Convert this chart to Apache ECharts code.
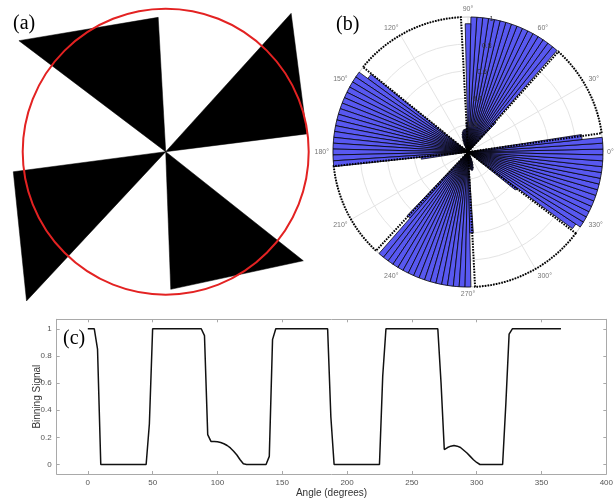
<!DOCTYPE html>
<html><head><meta charset="utf-8">
<script src="https://cdn.jsdelivr.net/npm/echarts@6/dist/echarts.min.js"></script>
<style>html,body{margin:0;padding:0;background:#fff}#c{width:616px;height:499px}</style>
</head><body><div id="c"></div>
<script>
// Sampling step of the binning signal (degrees)
const STEP = 2.5;
// Binning signal, one value every 2.5 degrees from 0 to 365
const signal = [
  1,1,1,0.85,0,0,0,0,0,0,
  0,0,0,0,0,0,0,0,0,0.3,
  1,1,1,1,1,1,1,1,1,1,
  1,1,1,1,1,1,0.95,0.22,0.17,0.17,
  0.168,0.162,0.153,0.14,0.122,0.098,0.07,0.035,0.005,0,
  0,0,0,0,0,0,0.06,0.92,1,1,
  1,1,1,1,1,1,1,1,1,1,
  1,1,1,1,1,0.35,0,0,0,0,
  0,0,0,0,0,0,0,0,0,0,
  0,0.65,1,1,1,1,1,1,1,1,
  1,1,1,1,1,1,1,1,1,0.6,
  0.11,0.125,0.135,0.14,0.135,0.125,0.105,0.085,0.06,0.035,
  0.015,0,0,0,0,0,0,0,0,0.45,
  0.96,1,1,1,1,1,1,1,1,1,
  1,1,1,1,1,1,1
];
const angles = signal.map((_, i) => i * STEP);
const BIN_COUNT = 144;
const binLabels = angles.slice(0, BIN_COUNT).map(String);
const binValues = signal.slice(0, BIN_COUNT);

// Pinwheel blades of panel (a): [radius1, angle1, radius2, angle2] (radius in units of the red circle)
const pinwheelBlades = [
  [0.941, 93.2, 1.287, 142.9],
  [0.994, 7.2, 1.306, 47.8],
  [1.075, 187.5, 1.427, 227.0],
  [0.963, 272.1, 1.228, 321.6]
];
const circleRadius = [[1, 0]];

// Reference (black) sectors outlined dotted in panel (b): [startAngle, endAngle]
const referenceWedges = [[8, 48], [93, 141], [186, 227], [273, 323]];

const xTicks = [0, 50, 100, 150, 200, 250, 300, 350, 400];
const yTicks = [0, 0.2, 0.4, 0.6, 0.8, 1];
const panelLabels = ['(a)', '(b)', '(c)'];

const chart = echarts.init(document.getElementById('c'), null, {renderer: 'canvas'});
const SANS = '"Liberation Sans", Arial, sans-serif';
const SERIF = '"Liberation Serif", "Times New Roman", serif';
const axisGray = '#a9a9a9';
const tickLabel = {fontSize: 8, color: '#555', fontFamily: SANS};

const option = {
  animation: false,
  backgroundColor: '#fff',
  textStyle: {fontFamily: SANS},
  polar: [
    {center: [165.7, 151.7], radius: 214.5},
    {center: [468, 152], radius: 135},
    {center: [468, 152], radius: 135},
    {center: [468, 152], radius: 135}
  ],
  angleAxis: [
    {polarIndex: 0, type: 'value', min: 0, max: 360, startAngle: 0, clockwise: false, show: false},
    {polarIndex: 1, type: 'category', data: binLabels, boundaryGap: false, startAngle: 0, clockwise: false,
      axisLine: {show: true, lineStyle: {color: '#d4d4d4', width: 1}},
      axisTick: {show: false},
      axisLabel: {interval: 11, formatter: v => v + '°', color: '#777', fontSize: 7, margin: 4, fontFamily: SANS},
      splitLine: {show: true, interval: 11, lineStyle: {color: '#e4e4e4', width: 1}}
    },
    {polarIndex: 2, type: 'value', min: 0, max: 360, startAngle: 0, clockwise: false, show: false},
    {polarIndex: 3, type: 'value', min: 0, max: 360, startAngle: 80, clockwise: false, show: false}
  ],
  radiusAxis: [
    {polarIndex: 0, type: 'value', min: 0, max: 1.5, show: false},
    {polarIndex: 1, type: 'value', min: 0, max: 1, interval: 0.2,
      axisLine: {show: false}, axisTick: {show: false}, axisLabel: {show: false},
      splitLine: {show: true, lineStyle: {color: '#e4e4e4', width: 1}}
    },
    {polarIndex: 2, type: 'value', min: 0, max: 1, show: false},
    {polarIndex: 3, type: 'value', min: 0, max: 1, interval: 0.2, z: 10,
      axisLine: {show: false}, axisTick: {show: false}, splitLine: {show: false},
      axisLabel: {margin: 0, align: 'center', verticalAlign: 'middle', color: '#333', fontSize: 7, fontFamily: SANS,
        formatter: v => (v === 0 ? '' : String(+v.toFixed(1)))}
    }
  ],
  grid: [{left: 56.7, top: 319.3, width: 552.3, height: 155.7, containLabel: false}],
  xAxis: [
    {gridIndex: 0, type: 'value', min: -24, max: 400, position: 'bottom',
      axisLine: {show: true, onZero: false, lineStyle: {color: axisGray, width: 1}},
      axisTick: {show: true, inside: true, length: 3, customValues: xTicks, lineStyle: {color: axisGray}},
      axisLabel: Object.assign({customValues: xTicks, margin: 5}, tickLabel),
      splitLine: {show: false},
      name: 'Angle (degrees)', nameLocation: 'middle', nameGap: 14, nameMoveOverlap: false,
      nameTextStyle: {fontSize: 10, color: '#333', fontFamily: SANS}
    },
    {gridIndex: 0, type: 'value', min: -24, max: 400, position: 'top',
      axisLine: {show: true, onZero: false, lineStyle: {color: axisGray, width: 1}},
      axisTick: {show: true, inside: true, length: 3, customValues: xTicks, lineStyle: {color: axisGray}},
      axisLabel: {show: false}, splitLine: {show: false}
    }
  ],
  yAxis: [
    {gridIndex: 0, type: 'value', min: -0.07, max: 1.07, position: 'left',
      axisLine: {show: true, onZero: false, lineStyle: {color: axisGray, width: 1}},
      axisTick: {show: true, inside: true, length: 3, customValues: yTicks, lineStyle: {color: axisGray}},
      axisLabel: Object.assign({customValues: yTicks, margin: 5}, tickLabel),
      splitLine: {show: false},
      name: 'Binning Signal', nameLocation: 'middle', nameGap: 14, nameMoveOverlap: false,
      nameTextStyle: {fontSize: 10, color: '#333', fontFamily: SANS}
    },
    {gridIndex: 0, type: 'value', min: -0.07, max: 1.07, position: 'right',
      axisLine: {show: true, onZero: false, lineStyle: {color: axisGray, width: 1}},
      axisTick: {show: true, inside: true, length: 3, customValues: yTicks, lineStyle: {color: axisGray}},
      axisLabel: {show: false}, splitLine: {show: false}
    }
  ],
  series: [
    {
      type: 'custom', coordinateSystem: 'polar', polarIndex: 0, silent: true,
      data: pinwheelBlades,
      renderItem: function (params, api) {
        const c = api.coord([0, 0]);
        const p1 = api.coord([api.value(0), api.value(1)]);
        const p2 = api.coord([api.value(2), api.value(3)]);
        return {type: 'polygon', shape: {points: [c, p1, p2]}, style: {fill: '#000', stroke: '#000', lineWidth: 0.5}};
      }
    },
    {
      type: 'custom', coordinateSystem: 'polar', polarIndex: 0, silent: true, z: 3,
      data: circleRadius,
      renderItem: function (params, api) {
        const c = api.coord([0, 0]);
        const p = api.coord([api.value(0), api.value(1)]);
        const r = Math.hypot(p[0] - c[0], p[1] - c[1]);
        return {type: 'circle', shape: {cx: c[0], cy: c[1], r: r}, style: {fill: null, stroke: '#e32222', lineWidth: 2}};
      }
    },
    {
      type: 'bar', coordinateSystem: 'polar', polarIndex: 1, silent: true,
      data: binValues,
      barCategoryGap: '0%',
      itemStyle: {color: '#5858f0', borderColor: '#000', borderWidth: 0.75}
    },
    {
      type: 'custom', coordinateSystem: 'polar', polarIndex: 2, silent: true, z: 4,
      data: referenceWedges,
      renderItem: function (params, api) {
        const c = api.coord([0, 0]);
        const p0 = api.coord([1, api.value(0)]);
        const p1 = api.coord([1, api.value(1)]);
        const r = Math.hypot(p0[0] - c[0], p0[1] - c[1]);
        const s0 = Math.atan2(p0[1] - c[1], p0[0] - c[0]);
        const s1 = Math.atan2(p1[1] - c[1], p1[0] - c[0]);
        return {type: 'sector', shape: {cx: c[0], cy: c[1], r0: 0, r: r, startAngle: s1, endAngle: s0, clockwise: true},
          style: {fill: null, stroke: '#000', lineWidth: 2, lineDash: [1.6, 1.2]}};
      }
    },
    {
      type: 'line', xAxisIndex: 0, yAxisIndex: 0, silent: true,
      data: angles.map((a, i) => [a, signal[i]]),
      showSymbol: false, symbol: 'none',
      lineStyle: {color: '#111', width: 1.5}
    }
  ],
  graphic: [
    {type: 'text', x: 13, y: 23.5, style: {text: panelLabels[0], font: '20px ' + SERIF, fill: '#000', align: 'left', verticalAlign: 'middle'}, z: 100},
    {type: 'text', x: 336, y: 25, style: {text: panelLabels[1], font: '20px ' + SERIF, fill: '#000', align: 'left', verticalAlign: 'middle'}, z: 100},
    {type: 'text', x: 63, y: 338.5, style: {text: panelLabels[2], font: '20px ' + SERIF, fill: '#000', align: 'left', verticalAlign: 'middle'}, z: 100}
  ]
};
chart.setOption(option);
</script>
</body></html>
